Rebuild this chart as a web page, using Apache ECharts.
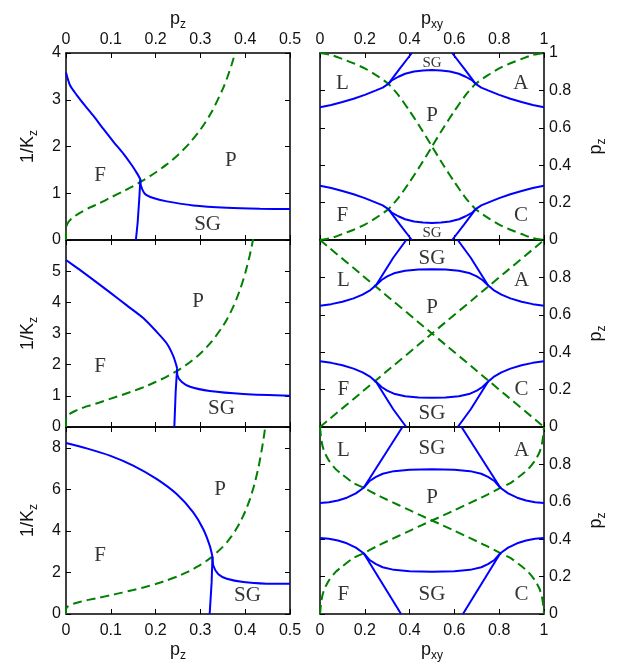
<!DOCTYPE html>
<html>
<head>
<meta charset="utf-8">
<script src="https://cdn.jsdelivr.net/npm/echarts@6/dist/echarts.min.js"></script>
<style>
html, body { margin: 0; padding: 0; background: #fff; }
#chart { width: 618px; height: 664px; }
</style>
</head>
<body>
<div id="chart"></div>
<script>
// ---------- data ----------
// left column: x = p_z (0..0.5), y = 1/K_z
const leftYMax = [4, 6, 9];
const leftYStep = [1, 1, 2];

// Nishimori line (green dashed), same in all three left panels
const nishLeft = [[0, 0], [0.000001, 0.145], [0.0001, 0.217], [0.001, 0.29], [0.005, 0.378], [0.01, 0.435],
  [0.02, 0.514], [0.03, 0.576], [0.05, 0.679], [0.075, 0.788], [0.1, 0.91], [0.125, 1.028], [0.15, 1.153],
  [0.175, 1.29], [0.2, 1.443], [0.225, 1.617], [0.25, 1.82], [0.275, 2.063], [0.3, 2.36], [0.325, 2.736],
  [0.35, 3.231], [0.36, 3.476], [0.37, 3.758], [0.38, 4.086], [0.39, 4.471], [0.4, 4.933], [0.41, 5.494],
  [0.42, 6.196], [0.43, 7.095], [0.44, 8.292], [0.445, 9.05], [0.45, 9.97]];

const fpTop = [[0, 3.585], [0.009, 3.31], [0.024, 3.10], [0.042, 2.88], [0.061, 2.66], [0.083, 2.38],
  [0.106, 2.10], [0.128, 1.85], [0.147, 1.60], [0.159, 1.42], [0.166, 1.30]];
const psgTop = [[0.166, 1.30], [0.167, 1.17], [0.176, 0.99], [0.195, 0.897], [0.225, 0.826], [0.284, 0.74],
  [0.359, 0.69], [0.433, 0.668], [0.5, 0.661]];
const fsgTop = [[0.166, 1.30], [0.164, 0.95], [0.16, 0.38], [0.156, 0]];

const fpMid = [[0, 5.36], [0.031, 5.04], [0.061, 4.72], [0.098, 4.32], [0.135, 3.91], [0.173, 3.49],
  [0.202, 3.06], [0.225, 2.68], [0.24, 2.26], [0.247, 1.94], [0.248, 1.88]];
const psgMid = [[0.248, 1.88], [0.2485, 1.67], [0.258, 1.45], [0.277, 1.29], [0.321, 1.155], [0.396, 1.06], [0.5, 1.005]];
const fsgMid = [[0.248, 1.88], [0.2448, 1.13], [0.2418, 0]];

const fpBot = [[0, 8.23], [0.046, 7.97], [0.098, 7.62], [0.15, 7.14], [0.202, 6.5], [0.247, 5.77],
  [0.284, 4.89], [0.3065, 4.08], [0.321, 3.28], [0.327, 2.75]];
const psgBot = [[0.327, 2.75], [0.329, 2.32], [0.34, 1.91], [0.359, 1.7], [0.396, 1.54], [0.448, 1.46], [0.5, 1.45]];
const fsgBot = [[0.327, 2.75], [0.325, 1.51], [0.3207, 0]];

// right column: x = p_xy (0..1), y = p_z (0..1)
const upperTopR = [[0, 0.71], [0.05, 0.722], [0.1, 0.738], [0.15, 0.755], [0.2, 0.776], [0.25, 0.8], [0.28, 0.815],
  [0.305, 0.835], [0.32, 0.853], [0.35, 0.873], [0.38, 0.889], [0.42, 0.901], [0.46, 0.907], [0.5, 0.909],
  [0.54, 0.907], [0.58, 0.901], [0.62, 0.889], [0.65, 0.873], [0.68, 0.853], [0.695, 0.835], [0.72, 0.815],
  [0.75, 0.8], [0.8, 0.776], [0.85, 0.755], [0.9, 0.738], [0.95, 0.722], [1, 0.71]];
const lowerTopR = [[0, 0.29], [0.05, 0.278], [0.1, 0.262], [0.15, 0.245], [0.2, 0.224], [0.25, 0.2], [0.28, 0.185],
  [0.305, 0.165], [0.32, 0.147], [0.35, 0.127], [0.38, 0.111], [0.42, 0.099], [0.46, 0.093], [0.5, 0.091],
  [0.54, 0.093], [0.58, 0.099], [0.62, 0.111], [0.65, 0.127], [0.68, 0.147], [0.695, 0.165], [0.72, 0.185],
  [0.75, 0.2], [0.8, 0.224], [0.85, 0.245], [0.9, 0.262], [0.95, 0.278], [1, 0.29]];
const sgTopR = [
  [[0.305, 0.835], [0.357, 0.918], [0.41, 1]], [[0.695, 0.835], [0.643, 0.918], [0.59, 1]],
  [[0.305, 0.165], [0.357, 0.082], [0.41, 0]], [[0.695, 0.165], [0.643, 0.082], [0.59, 0]]];
const nishDescTopR = [[0, 1], [0.05, 0.99], [0.1, 0.968], [0.15, 0.945], [0.2, 0.918], [0.25, 0.882], [0.305, 0.835],
  [0.35, 0.775], [0.4, 0.69], [0.45, 0.598], [0.5, 0.5], [0.55, 0.402], [0.6, 0.31], [0.65, 0.225], [0.695, 0.165],
  [0.75, 0.118], [0.8, 0.082], [0.85, 0.055], [0.9, 0.032], [0.95, 0.01], [1, 0]];
const nishAscTopR = [[0, 0], [0.05, 0.01], [0.1, 0.032], [0.15, 0.055], [0.2, 0.082], [0.25, 0.118], [0.305, 0.165],
  [0.35, 0.225], [0.4, 0.31], [0.45, 0.402], [0.5, 0.5], [0.55, 0.598], [0.6, 0.69], [0.65, 0.775], [0.695, 0.835],
  [0.75, 0.882], [0.8, 0.918], [0.85, 0.945], [0.9, 0.968], [0.95, 0.99], [1, 1]];

const upperMidR = [[0, 0.649], [0.05, 0.657], [0.1, 0.67], [0.15, 0.688], [0.19, 0.708], [0.225, 0.732], [0.25, 0.758],
  [0.275, 0.786], [0.3, 0.805], [0.33, 0.822], [0.38, 0.836], [0.44, 0.842], [0.5, 0.844], [0.56, 0.842],
  [0.62, 0.836], [0.67, 0.822], [0.7, 0.805], [0.725, 0.786], [0.75, 0.758], [0.775, 0.732], [0.81, 0.708],
  [0.85, 0.688], [0.9, 0.67], [0.95, 0.657], [1, 0.649]];
const lowerMidR = [[0, 0.351], [0.05, 0.343], [0.1, 0.33], [0.15, 0.312], [0.19, 0.292], [0.225, 0.268], [0.25, 0.242],
  [0.275, 0.214], [0.3, 0.195], [0.33, 0.178], [0.38, 0.164], [0.44, 0.158], [0.5, 0.156], [0.56, 0.158],
  [0.62, 0.164], [0.67, 0.178], [0.7, 0.195], [0.725, 0.214], [0.75, 0.242], [0.775, 0.268], [0.81, 0.292],
  [0.85, 0.312], [0.9, 0.33], [0.95, 0.343], [1, 0.351]];
const sgMidR = [
  [[0.25, 0.758], [0.327, 0.905], [0.385, 1]], [[0.75, 0.758], [0.673, 0.905], [0.615, 1]],
  [[0.25, 0.242], [0.327, 0.095], [0.385, 0]], [[0.75, 0.242], [0.673, 0.095], [0.615, 0]]];
const nishDescMidR = [[0, 1], [0.25, 0.75], [0.5, 0.5], [0.75, 0.25], [1, 0]];
const nishAscMidR = [[0, 0], [0.25, 0.25], [0.5, 0.5], [0.75, 0.75], [1, 1]];

const upperBotR = [[0, 0.594], [0.04, 0.598], [0.08, 0.607], [0.12, 0.622], [0.16, 0.645], [0.195, 0.675], [0.22, 0.71],
  [0.25, 0.733], [0.28, 0.75], [0.33, 0.764], [0.4, 0.771], [0.5, 0.774], [0.6, 0.771], [0.67, 0.764], [0.72, 0.75],
  [0.75, 0.733], [0.78, 0.71], [0.805, 0.675], [0.84, 0.645], [0.88, 0.622], [0.92, 0.607], [0.96, 0.598], [1, 0.594]];
const lowerBotR = [[0, 0.406], [0.04, 0.402], [0.08, 0.393], [0.12, 0.378], [0.16, 0.355], [0.195, 0.325], [0.22, 0.29],
  [0.25, 0.267], [0.28, 0.25], [0.33, 0.236], [0.4, 0.229], [0.5, 0.226], [0.6, 0.229], [0.67, 0.236], [0.72, 0.25],
  [0.75, 0.267], [0.78, 0.29], [0.805, 0.325], [0.84, 0.355], [0.88, 0.378], [0.92, 0.393], [0.96, 0.402], [1, 0.406]];
const sgBotR = [
  [[0.195, 0.675], [0.368, 1]], [[0.805, 0.675], [0.632, 1]],
  [[0.195, 0.325], [0.362, 0]], [[0.805, 0.325], [0.638, 0]]];
const nishDescBotR = [[0, 1], [0.005, 0.94], [0.01, 0.905], [0.02, 0.865], [0.04, 0.82], [0.07, 0.775], [0.1, 0.745],
  [0.15, 0.7], [0.195, 0.675], [0.25, 0.64], [0.3, 0.611], [0.35, 0.583], [0.4, 0.555], [0.45, 0.527], [0.5, 0.5],
  [0.55, 0.473], [0.6, 0.445], [0.65, 0.417], [0.7, 0.389], [0.75, 0.36], [0.805, 0.325], [0.85, 0.3],
  [0.9, 0.255], [0.93, 0.225], [0.96, 0.18], [0.98, 0.135], [0.99, 0.095], [0.995, 0.06], [1, 0]];
const nishAscBotR = [[0, 0], [0.005, 0.06], [0.01, 0.095], [0.02, 0.135], [0.04, 0.18], [0.07, 0.225], [0.1, 0.255],
  [0.15, 0.3], [0.195, 0.325], [0.25, 0.36], [0.3, 0.389], [0.35, 0.417], [0.4, 0.445], [0.45, 0.473], [0.5, 0.5],
  [0.55, 0.527], [0.6, 0.555], [0.65, 0.583], [0.7, 0.611], [0.75, 0.64], [0.805, 0.675], [0.85, 0.7],
  [0.9, 0.745], [0.93, 0.775], [0.96, 0.82], [0.98, 0.865], [0.99, 0.905], [0.995, 0.94], [1, 1]];

// phase labels: [x, y, text, fontSize]
const labelsTopL = [[0.076, 1.38, 'F'], [0.368, 1.70, 'P'], [0.316, 0.33, 'SG']];
const labelsMidL = [[0.076, 1.94, 'F'], [0.295, 4.02, 'P'], [0.347, 0.6, 'SG']];
const labelsBotL = [[0.076, 2.83, 'F'], [0.344, 6.01, 'P'], [0.405, 0.87, 'SG']];
const labelsTopR = [[0.1, 0.837, 'L'], [0.897, 0.837, 'A'], [0.5, 0.668, 'P'], [0.5, 0.945, 'SG', 15],
  [0.1, 0.131, 'F'], [0.897, 0.131, 'C'], [0.5, 0.038, 'SG', 15]];
const labelsMidR = [[0.104, 0.786, 'L'], [0.9, 0.786, 'A'], [0.5, 0.638, 'P'], [0.5, 0.902, 'SG'],
  [0.104, 0.203, 'F'], [0.9, 0.203, 'C'], [0.5, 0.073, 'SG']];
const labelsBotR = [[0.104, 0.873, 'L'], [0.9, 0.873, 'A'], [0.5, 0.623, 'P'], [0.5, 0.886, 'SG'],
  [0.104, 0.105, 'F'], [0.9, 0.105, 'C'], [0.5, 0.105, 'SG']];

// ---------- chart ----------
const BLUE = '#0000ff';
const GREEN = '#008000';
const tickFont = { fontFamily: 'Liberation Sans', fontSize: 16, color: '#111' };
const nameRich = {
  b: { fontFamily: 'Liberation Sans', fontSize: 18, color: '#111', lineHeight: 24, verticalAlign: 'middle' },
  s: { fontFamily: 'Liberation Sans', fontSize: 12, color: '#111', verticalAlign: 'bottom' }
};

const panels = [
  { col: 0, row: 0, yMax: leftYMax[0], yStep: leftYStep[0], curves: [fpTop, psgTop], lines: [fsgTop], dashed: [nishLeft], labels: labelsTopL },
  { col: 1, row: 0, yMax: 1, yStep: 0.2, curves: [], lines: [upperTopR, lowerTopR].concat(sgTopR), dashed: [nishDescTopR, nishAscTopR], labels: labelsTopR },
  { col: 0, row: 1, yMax: leftYMax[1], yStep: leftYStep[1], curves: [fpMid, psgMid], lines: [fsgMid], dashed: [nishLeft], labels: labelsMidL },
  { col: 1, row: 1, yMax: 1, yStep: 0.2, curves: [], lines: [upperMidR, lowerMidR].concat(sgMidR), dashed: [nishDescMidR, nishAscMidR], labels: labelsMidR },
  { col: 0, row: 2, yMax: leftYMax[2], yStep: leftYStep[2], curves: [fpBot, psgBot], lines: [fsgBot], dashed: [nishLeft], labels: labelsBotL },
  { col: 1, row: 2, yMax: 1, yStep: 0.2, curves: [], lines: [upperBotR, lowerBotR].concat(sgBotR), dashed: [nishDescBotR, nishAscBotR], labels: labelsBotR }
];

const gridLeft = [66, 320];
const gridTop = [53, 240, 427];

function axisBase(show) {
  return {
    type: 'value',
    axisLine: { show: true, onZero: false, lineStyle: { color: '#000', width: 1.5 } },
    axisTick: { show: true, inside: true, length: 5, lineStyle: { color: '#000', width: 1 } },
    splitLine: { show: false },
    axisLabel: Object.assign({ show: show }, tickFont)
  };
}

function lineSeries(i, d, color, extra) {
  return Object.assign({ type: 'line', xAxisIndex: 2 * i, yAxisIndex: 2 * i, data: d, showSymbol: false,
    symbol: 'none', silent: true, clip: true, lineStyle: { color: color, width: 2 } }, extra || {});
}

const grid = [], xAxis = [], yAxis = [], series = [];
panels.forEach(function (p, i) {
  grid.push({ left: gridLeft[p.col], top: gridTop[p.row], width: 224, height: 187 });
  const xMax = p.col === 0 ? 0.5 : 1;
  const xStep = p.col === 0 ? 0.1 : 0.2;
  const xName = p.col === 0 ? '{b|p}{s|z}' : '{b|p}{s|xy}';

  const xb = axisBase(p.row === 2);
  Object.assign(xb, { gridIndex: i, position: 'bottom', min: 0, max: xMax, interval: xStep });
  xb.axisLabel.margin = 9;
  if (p.row === 2) Object.assign(xb, { name: xName, nameLocation: 'middle', nameGap: 24, nameTextStyle: { rich: nameRich } });
  const xt = axisBase(p.row === 0);
  Object.assign(xt, { gridIndex: i, position: 'top', min: 0, max: xMax, interval: xStep });
  xt.axisLabel.margin = 5;
  if (p.row === 0) Object.assign(xt, { name: xName, nameLocation: 'middle', nameGap: 20, nameTextStyle: { rich: nameRich } });
  xAxis.push(xb, xt);

  const yl = axisBase(p.col === 0);
  Object.assign(yl, { gridIndex: i, position: 'left', min: 0, max: p.yMax, interval: p.yStep });
  yl.axisLabel.margin = 5;
  yl.axisLabel.showMaxLabel = p.row === 0;
  if (p.col === 0) Object.assign(yl, { name: '{b|1/K}{s|z}', nameLocation: 'middle', nameGap: 26, nameRotate: 90, nameTextStyle: { rich: nameRich } });
  const yr = axisBase(p.col === 1);
  Object.assign(yr, { gridIndex: i, position: 'right', min: 0, max: p.yMax, interval: p.yStep });
  yr.axisLabel.margin = 5;
  yr.axisLabel.showMaxLabel = p.row === 0;
  if (p.col === 1) Object.assign(yr, { name: '{b|p}{s|z}', nameLocation: 'middle', nameGap: 40, nameRotate: 90, nameTextStyle: { rich: nameRich } });
  yAxis.push(yl, yr);

  p.dashed.forEach(function (d) {
    series.push(lineSeries(i, d, GREEN, { smooth: 0.2, lineStyle: { color: GREEN, width: 2, type: [9, 5] } }));
  });
  p.curves.forEach(function (d) {
    series.push(lineSeries(i, d, BLUE, { smooth: 0.25 }));
  });
  p.lines.forEach(function (d) {
    series.push(lineSeries(i, d, BLUE));
  });
  series.push({
    type: 'scatter', xAxisIndex: 2 * i, yAxisIndex: 2 * i, symbolSize: 1, silent: true,
    itemStyle: { color: 'rgba(0,0,0,0)' },
    label: { show: true, position: 'inside', fontFamily: 'Liberation Serif', fontSize: 21, color: '#000' },
    data: p.labels.map(function (l) {
      return { value: [l[0], l[1]], label: { formatter: l[2], fontSize: l[3] || 21 } };
    })
  });
});

const chart = echarts.init(document.getElementById('chart'));
chart.setOption({ animation: false, backgroundColor: '#fff', grid: grid, xAxis: xAxis, yAxis: yAxis, series: series });
</script>
</body>
</html>
